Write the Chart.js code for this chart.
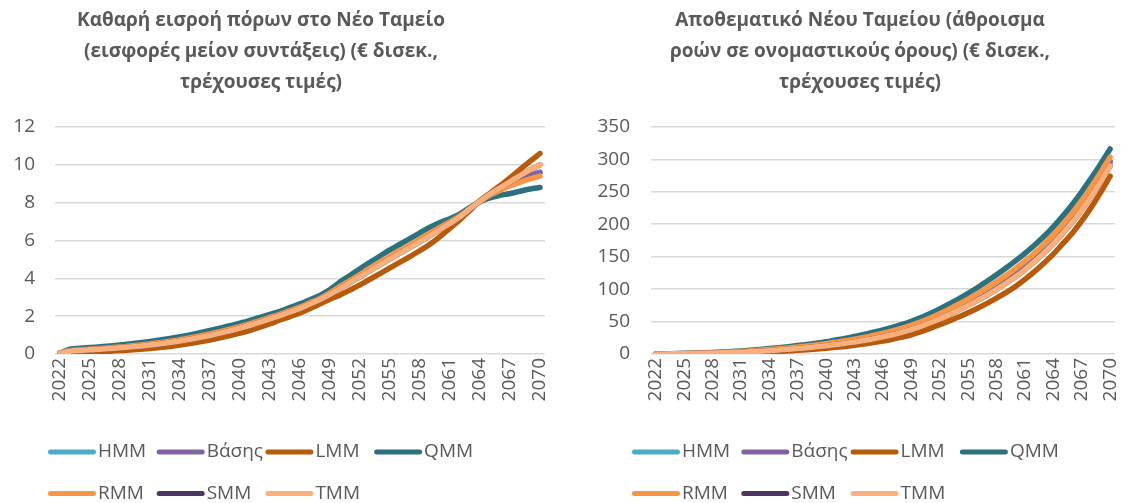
<!DOCTYPE html>
<html lang="el">
<head>
<meta charset="UTF-8">
<title>Νέο Ταμείο - ροές και αποθεματικό</title>
<script src="https://cdn.jsdelivr.net/npm/chart.js"></script>
<style>
  html, body { margin: 0; padding: 0; background: #fff; overflow: hidden; }
  .box { position: absolute; top: 0; height: 503px; }
  #leftBox { left: 0; width: 568px; }
  #rightBox { left: 568px; width: 569px; }
</style>
</head>
<body>
<div class="box" id="leftBox"><canvas id="flowChart"></canvas></div>
<div class="box" id="rightBox"><canvas id="reserveChart"></canvas></div>

<script>
// ---------- data ----------
const years = [];
for (let y = 2022; y <= 2070; y++) years.push(String(y));

const seriesNames = ['HMM', 'Βάσης', 'LMM', 'QMM', 'RMM', 'SMM', 'TMM'];
const seriesColors = ['#4bacc6', '#8064a2', '#b75b0b', '#2b717f', '#f79646', '#4a3660', '#fbb07c'];

// net inflow, € bn (left chart)
const hmmFlow  = [0.05,0.16,0.20,0.23,0.27,0.31,0.35,0.40,0.45,0.50,0.57,0.64,0.72,0.81,0.91,1.02,1.14,1.27,1.41,1.56,1.72,1.89,2.06,2.25,2.44,2.67,2.91,3.19,3.51,3.82,4.14,4.47,4.79,5.10,5.40,5.70,6.01,6.32,6.63,6.94,7.27,7.69,8.07,8.42,8.72,8.98,9.22,9.42,9.60];
const baseFlow = [0.05,0.16,0.20,0.23,0.27,0.31,0.35,0.40,0.45,0.50,0.57,0.64,0.72,0.81,0.91,1.02,1.14,1.27,1.41,1.56,1.72,1.89,2.06,2.25,2.44,2.67,2.91,3.19,3.51,3.82,4.14,4.47,4.79,5.10,5.40,5.70,6.01,6.32,6.63,6.94,7.27,7.69,8.07,8.42,8.72,8.98,9.22,9.42,9.60];
const lmmFlow  = [0.05,0.05,0.07,0.09,0.12,0.15,0.18,0.21,0.25,0.29,0.34,0.40,0.47,0.55,0.64,0.74,0.85,0.97,1.10,1.25,1.42,1.60,1.80,1.98,2.17,2.40,2.65,2.90,3.12,3.38,3.65,3.95,4.25,4.55,4.85,5.15,5.47,5.80,6.20,6.65,7.10,7.60,8.10,8.50,8.90,9.30,9.75,10.18,10.60];
const qmmFlow  = [0.05,0.25,0.30,0.34,0.38,0.42,0.47,0.53,0.59,0.66,0.74,0.82,0.91,1.01,1.12,1.24,1.37,1.50,1.63,1.78,1.94,2.10,2.25,2.45,2.65,2.87,3.10,3.40,3.80,4.15,4.50,4.85,5.18,5.50,5.80,6.10,6.40,6.70,6.95,7.15,7.40,7.75,8.05,8.25,8.38,8.48,8.60,8.72,8.80];
const rmmFlow  = [0.05,0.18,0.22,0.25,0.29,0.33,0.37,0.42,0.47,0.53,0.60,0.67,0.75,0.85,0.95,1.06,1.18,1.31,1.45,1.60,1.76,1.93,2.10,2.29,2.48,2.71,2.94,3.23,3.56,3.88,4.20,4.54,4.86,5.17,5.47,5.77,6.08,6.39,6.69,6.98,7.30,7.70,8.06,8.40,8.65,8.88,9.07,9.25,9.40];
const smmFlow  = [0.05,0.15,0.19,0.22,0.25,0.29,0.33,0.37,0.42,0.47,0.54,0.61,0.69,0.78,0.88,0.98,1.10,1.23,1.37,1.52,1.68,1.85,2.03,2.22,2.41,2.64,2.88,3.15,3.46,3.77,4.08,4.40,4.72,5.03,5.33,5.63,5.94,6.25,6.58,6.90,7.25,7.68,8.07,8.45,8.78,9.10,9.43,9.73,10.00];
const tmmFlow  = [0.05,0.15,0.19,0.22,0.25,0.29,0.33,0.37,0.42,0.47,0.54,0.61,0.69,0.78,0.88,0.98,1.10,1.23,1.37,1.52,1.68,1.85,2.03,2.22,2.41,2.64,2.88,3.15,3.46,3.77,4.08,4.40,4.72,5.03,5.33,5.63,5.94,6.25,6.58,6.90,7.25,7.68,8.07,8.45,8.78,9.10,9.43,9.73,10.00];

// reserve, € bn (right chart)
const hmmReserve  = [0.08,0.21,0.41,0.62,0.9,1.24,1.65,2.14,2.7,3.34,4.11,4.99,5.96,7.03,8.2,9.52,10.95,12.52,14.25,16.19,18.22,20.61,23.09,25.98,29.01,32.45,36.34,40.68,45.9,51.7,57.99,64.78,71.84,79.4,87.46,96.02,105.08,114.64,124.93,136.2,148.47,161.73,176.26,192.53,209.59,228.85,249.85,272.32,296.26];
const baseReserve = [0.08,0.21,0.41,0.62,0.9,1.24,1.65,2.14,2.7,3.34,4.11,4.99,5.96,7.03,8.2,9.52,10.95,12.52,14.25,16.19,18.22,20.61,23.09,25.98,29.01,32.45,36.34,40.68,45.9,51.7,57.99,64.78,71.84,79.4,87.46,96.02,105.08,114.64,124.93,136.2,148.47,161.73,176.26,192.53,209.59,228.85,249.85,272.32,296.26];
const lmmReserve  = [0.05,0.1,0.2,0.3,0.45,0.6,0.8,1.05,1.35,1.7,2.1,2.6,3.2,3.9,4.7,5.6,6.6,7.7,8.9,10.2,11.7,13.4,15.3,17.5,20.0,22.8,26.0,29.6,34.5,39.5,45.0,51.0,57.0,63.5,70.5,78.0,86.0,94.5,104.0,115.0,127.0,140.0,154.0,170.0,186.0,205.0,226.0,249.0,274.0];
const qmmReserve  = [0.1,0.3,0.6,0.9,1.3,1.8,2.4,3.1,3.9,4.8,5.9,7.1,8.4,9.8,11.3,13.0,14.8,16.8,19.0,21.5,24.0,27.0,30.0,33.5,37.0,41.0,45.5,50.5,56.0,62.5,69.5,77.0,85.0,93.5,102.5,112.0,122.0,132.5,143.5,155.0,167.5,181.0,196.0,212.5,230.5,250.0,271.0,293.0,316.0];
const rmmReserve  = [0.09,0.24,0.48,0.72,1.05,1.44,1.92,2.49,3.14,3.87,4.76,5.75,6.84,8.03,9.32,10.78,12.34,14.07,15.97,18.11,20.31,22.92,25.59,28.7,31.9,35.54,39.65,44.23,49.55,55.6,62.15,69.2,76.6,84.5,92.9,101.8,111.2,121.1,131.65,143.0,155.35,168.7,183.4,199.75,217.15,236.5,257.5,279.8,303.4];
const smmReserve  = [0.07,0.18,0.35,0.53,0.77,1.06,1.41,1.83,2.32,2.88,3.54,4.31,5.18,6.14,7.21,8.41,9.72,11.16,12.74,14.49,16.37,18.57,20.89,23.58,26.46,29.72,33.41,37.54,42.67,48.24,54.31,60.88,67.64,74.9,82.66,90.92,99.68,108.94,119.01,130.2,142.39,155.58,169.96,186.15,202.91,222.1,243.1,265.72,289.96];
const tmmReserve  = [0.07,0.18,0.35,0.53,0.77,1.06,1.41,1.83,2.32,2.88,3.54,4.31,5.18,6.14,7.21,8.41,9.72,11.16,12.74,14.49,16.37,18.57,20.89,23.58,26.46,29.72,33.41,37.54,42.67,48.24,54.31,60.88,67.64,74.9,82.66,90.92,99.68,108.94,119.01,130.2,142.39,155.58,169.96,186.15,202.91,222.1,243.1,265.72,289.96];

const flowTitle = ['Καθαρή εισροή πόρων στο Νέο Ταμείο', '(εισφορές μείον συντάξεις) (€ δισεκ.,', 'τρέχουσες τιμές)'];
const reserveTitle = ['Αποθεματικό Νέου Ταμείου (άθροισμα', 'ροών σε ονομαστικούς όρους) (€ δισεκ.,', 'τρέχουσες τιμές)'];

// ---------- common look ----------
Chart.defaults.font.family = "'Open Sans', sans-serif";
Chart.defaults.color = '#595959';

// legend laid out in a 4-column grid like the spreadsheet one
const gridLegend = {
  id: 'gridLegend',
  afterDraw(chart, args, opts) {
    const ctx = chart.ctx;
    ctx.save();
    ctx.font = "19px 'Open Sans'";
    ctx.textBaseline = 'middle';
    ctx.textAlign = 'left';
    chart.data.datasets.forEach((ds, i) => {
      const x = opts.x + (i % 4) * opts.step;
      const y = opts.y + Math.floor(i / 4) * opts.rowGap;
      ctx.strokeStyle = ds.borderColor;
      ctx.lineWidth = 5;
      ctx.lineCap = 'round';
      ctx.beginPath();
      ctx.moveTo(x + 2.5, y);
      ctx.lineTo(x + 45.5, y);
      ctx.stroke();
      ctx.fillStyle = '#595959';
      ctx.fillText(ds.label, x + 50, y);
    });
    ctx.restore();
  }
};

function makeDatasets(series) {
  return series.map((values, i) => ({
    label: seriesNames[i],
    data: values,
    borderColor: seriesColors[i],
    backgroundColor: seriesColors[i],
    borderWidth: 5.5,
    borderCapStyle: 'round',
    borderJoinStyle: 'round',
    pointRadius: 0,
    cubicInterpolationMode: 'monotone',
    order: series.length - 1 - i   // last series drawn on top
  }));
}

function makeChart(id, series, title, yMax, yStep, pad, yWidth, tickPad, legendX, legendStep) {
  return new Chart(document.getElementById(id), {
    type: 'line',
    data: { labels: years, datasets: makeDatasets(series) },
    options: {
      responsive: true,
      maintainAspectRatio: false,
      animation: false,
      layout: { padding: { left: pad.left, right: pad.right, top: 0, bottom: 89 } },
      plugins: {
        legend: { display: false },
        tooltip: { enabled: false },
        title: {
          display: true,
          text: title,
          color: '#595959',
          font: { size: 19, weight: 'bold', lineHeight: 1.63 },
          padding: { top: 5, bottom: 29 }
        },
        gridLegend: { x: legendX, step: legendStep, y: 452, rowGap: 41.5 }
      },
      scales: {
        x: {
          offset: true,
          grid: { display: false, drawTicks: false },
          border: { display: false },
          ticks: {
            autoSkip: false,
            minRotation: 90,
            maxRotation: 90,
            padding: 4,
            font: { size: 19 },
            callback: function (val, idx) {
              return idx % 3 === 0 ? this.getLabelForValue(val) : '';
            }
          },
          afterFit: s => { s.height = 60; }
        },
        y: {
          min: 0,
          max: yMax,
          ticks: { stepSize: yStep, padding: tickPad, font: { size: 19 } },
          grid: { color: '#d9d9d9', lineWidth: 1.5, drawTicks: false },
          border: { display: false },
          afterFit: s => { s.width = yWidth; }
        }
      }
    },
    plugins: [gridLegend]
  });
}

makeChart('flowChart',
  [hmmFlow, baseFlow, lmmFlow, qmmFlow, rmmFlow, smmFlow, tmmFlow],
  flowTitle, 12, 2, { left: -23, right: 23 }, 78, 20, 48, 108.7);

makeChart('reserveChart',
  [hmmReserve, baseReserve, lmmReserve, qmmReserve, rmmReserve, smmReserve, tmmReserve],
  reserveTitle, 350, 50, { left: 22, right: 7 }, 61, 21, 64, 109.3);
</script>
</body>
</html>
